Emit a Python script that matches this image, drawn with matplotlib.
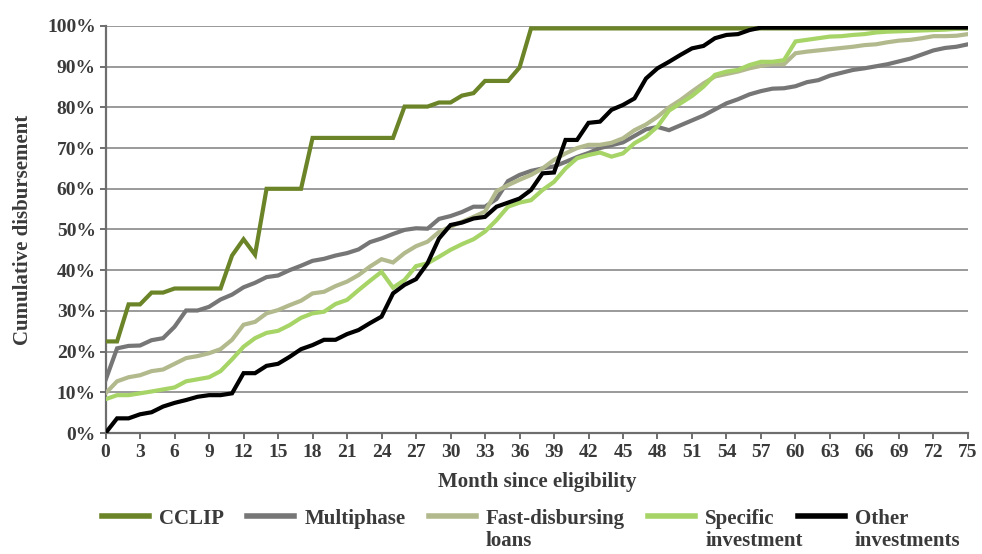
import matplotlib
matplotlib.use("Agg")
import matplotlib.pyplot as plt
from matplotlib.lines import Line2D

plt.rcParams['font.family'] = ['Liberation Serif', 'DejaVu Serif']
plt.rcParams['font.weight'] = 'bold'
plt.rcParams['axes.labelweight'] = 'bold'

# months since eligibility, 0..75
months = list(range(0, 76))

cclip = ([22.5, 22.5, 31.6, 31.6, 34.5, 34.5, 35.5, 35.5, 35.5, 35.5, 35.5,
          43.6, 47.6, 43.8, 60.0, 60.0, 60.0, 60.0]
         + [72.5] * 8
         + [80.2, 80.2, 80.2, 81.2, 81.2, 82.9, 83.5, 86.5, 86.5, 86.5, 89.8]
         + [99.4] * 39)

multiphase = [13.0, 20.8, 21.4, 21.5, 22.8, 23.3, 26.1, 30.1, 30.1, 31.0,
              32.8, 34.0, 35.8, 36.9, 38.3, 38.7, 40.0, 41.1, 42.3, 42.8,
              43.6, 44.2, 45.1, 46.9, 47.8, 48.9, 49.9, 50.3, 50.2, 52.6,
              53.3, 54.3, 55.6, 55.6, 57.5, 61.9, 63.4, 64.4, 65.0, 65.5,
              66.6, 67.8, 68.8, 70.0, 70.7, 71.4, 73.0, 74.6, 75.2, 74.4,
              75.6, 76.8, 78.0, 79.5, 81.0, 82.0, 83.2, 84.0, 84.6, 84.7,
              85.2, 86.2, 86.7, 87.8, 88.5, 89.2, 89.6, 90.1, 90.6, 91.3,
              92.0, 93.0, 94.0, 94.6, 94.9, 95.5]

fast_disbursing = [9.75, 12.7, 13.7, 14.2, 15.2, 15.6, 17.0, 18.4, 18.9, 19.6,
                   20.6, 22.9, 26.6, 27.3, 29.4, 30.2, 31.4, 32.5, 34.3, 34.7,
                   36.1, 37.2, 38.8, 40.9, 42.7, 41.9, 44.2, 45.9, 47.0, 49.4,
                   50.7, 51.9, 53.1, 54.4, 59.4, 60.9, 62.2, 63.4, 65.0, 67.1,
                   68.7, 70.0, 70.8, 70.8, 71.3, 72.4, 74.4, 75.8, 77.7, 80.0,
                   81.8, 83.9, 85.9, 87.6, 88.2, 88.8, 89.6, 90.2, 90.6, 90.6,
                   93.3, 93.7, 94.0, 94.3, 94.6, 94.9, 95.3, 95.5, 96.0, 96.4,
                   96.6, 97.0, 97.5, 97.5, 97.6, 98.0]

specific = [8.3, 9.3, 9.3, 9.75, 10.2, 10.7, 11.2, 12.7, 13.2, 13.7,
            15.2, 18.1, 21.2, 23.3, 24.6, 25.1, 26.5, 28.3, 29.4, 29.8,
            31.7, 32.7, 35.1, 37.4, 39.6, 35.7, 37.6, 41.0, 41.7, 43.3,
            45.0, 46.4, 47.6, 49.5, 52.3, 55.6, 56.6, 57.2, 59.7, 61.7,
            65.0, 67.5, 68.3, 68.9, 67.9, 68.7, 71.2, 72.8, 75.3, 79.2,
            81.0, 82.8, 85.1, 88.0, 88.8, 89.2, 90.4, 91.2, 91.2, 91.6,
            96.2, 96.6, 97.0, 97.4, 97.5, 97.8, 98.0, 98.4, 98.6, 98.7,
            98.8, 98.9, 99.0, 99.1, 99.3, 99.5]

other = ([0.0, 3.6, 3.6, 4.6, 5.1, 6.5, 7.4, 8.1, 8.9, 9.3,
          9.3, 9.75, 14.7, 14.7, 16.5, 17.0, 18.7, 20.6, 21.6, 22.9,
          22.9, 24.3, 25.3, 27.0, 28.6, 34.3, 36.4, 37.8, 41.7, 47.8,
          51.1, 51.7, 52.7, 53.1, 55.6, 56.6, 57.6, 59.7, 63.8, 64.0,
          72.0, 72.0, 76.2, 76.5, 79.4, 80.6, 82.2, 87.1, 89.6, 91.2,
          92.9, 94.5, 95.1, 97.0, 97.8, 98.0, 99.0]
         + [99.6] * 19)

series = [
    ("CCLIP", cclip, "#6b8428"),
    ("Multiphase", multiphase, "#767676"),
    ("Fast-disbursing\nloans", fast_disbursing, "#b2ba8d"),
    ("Specific\ninvestment", specific, "#a7d466"),
    ("Other\ninvestments", other, "#000000"),
]

text_color = "#3a3a3a"
fs = 14
fs_lab = 15

fig = plt.figure(figsize=(9.82, 5.54), dpi=100)
ax = fig.add_axes([0.1075, 0.2184, 0.8782, 0.7347])

for name, vals, col in series:
    ax.plot(months, vals, color=col, lw=3, solid_joinstyle="miter", zorder=3)

ax.set_xlim(0, 75)
ax.set_ylim(0, 100)
ax.set_xticks(range(0, 76, 3))
ax.set_yticks(range(0, 101, 10))
ax.set_yticklabels([f"{v}%" for v in range(0, 101, 10)])
ax.grid(axis="y", color="#9a9a9a", lw=1.4, zorder=0)
ax.set_axisbelow(True)

for s in ["top", "right"]:
    ax.spines[s].set_visible(False)
for s in ["left", "bottom"]:
    ax.spines[s].set_color("#6e6e6e")
    ax.spines[s].set_linewidth(1.6)

ax.tick_params(axis="both", colors="#6e6e6e", width=1.4, length=4,
               labelsize=fs, labelcolor=text_color)
ax.tick_params(axis="y", pad=3)
ax.tick_params(axis="x", pad=4)

ax.set_xlabel("Month since eligibility", fontsize=fs_lab, color=text_color,
              labelpad=8)
ax.set_ylabel("Cumulative disbursement", fontsize=fs_lab, color=text_color,
              labelpad=10)

# legend: first lines in the legend, second lines hung underneath
handles = [Line2D([], [], color=c, lw=4) for _, _, c in series]
first = [n.split("\n")[0] for n, _, _ in series]
leg = fig.legend(handles, first, loc="upper left", ncol=5,
                 bbox_to_anchor=(0.104, 0.082), frameon=False,
                 fontsize=fs_lab, handlelength=2.25, handletextpad=0.5,
                 columnspacing=1.1, borderaxespad=0, borderpad=0)
for t in leg.get_texts():
    t.set_color(text_color)

fig.canvas.draw()
for txt, (n, _, _) in zip(leg.get_texts(), series):
    if "\n" in n:
        ax.annotate(n.split("\n")[1], xy=(0, 0), xycoords=txt,
                    xytext=(0, -1.5), textcoords="offset points",
                    va="top", ha="left", fontsize=fs_lab, color=text_color,
                    annotation_clip=False)

fig.savefig("out.png", dpi=100)
